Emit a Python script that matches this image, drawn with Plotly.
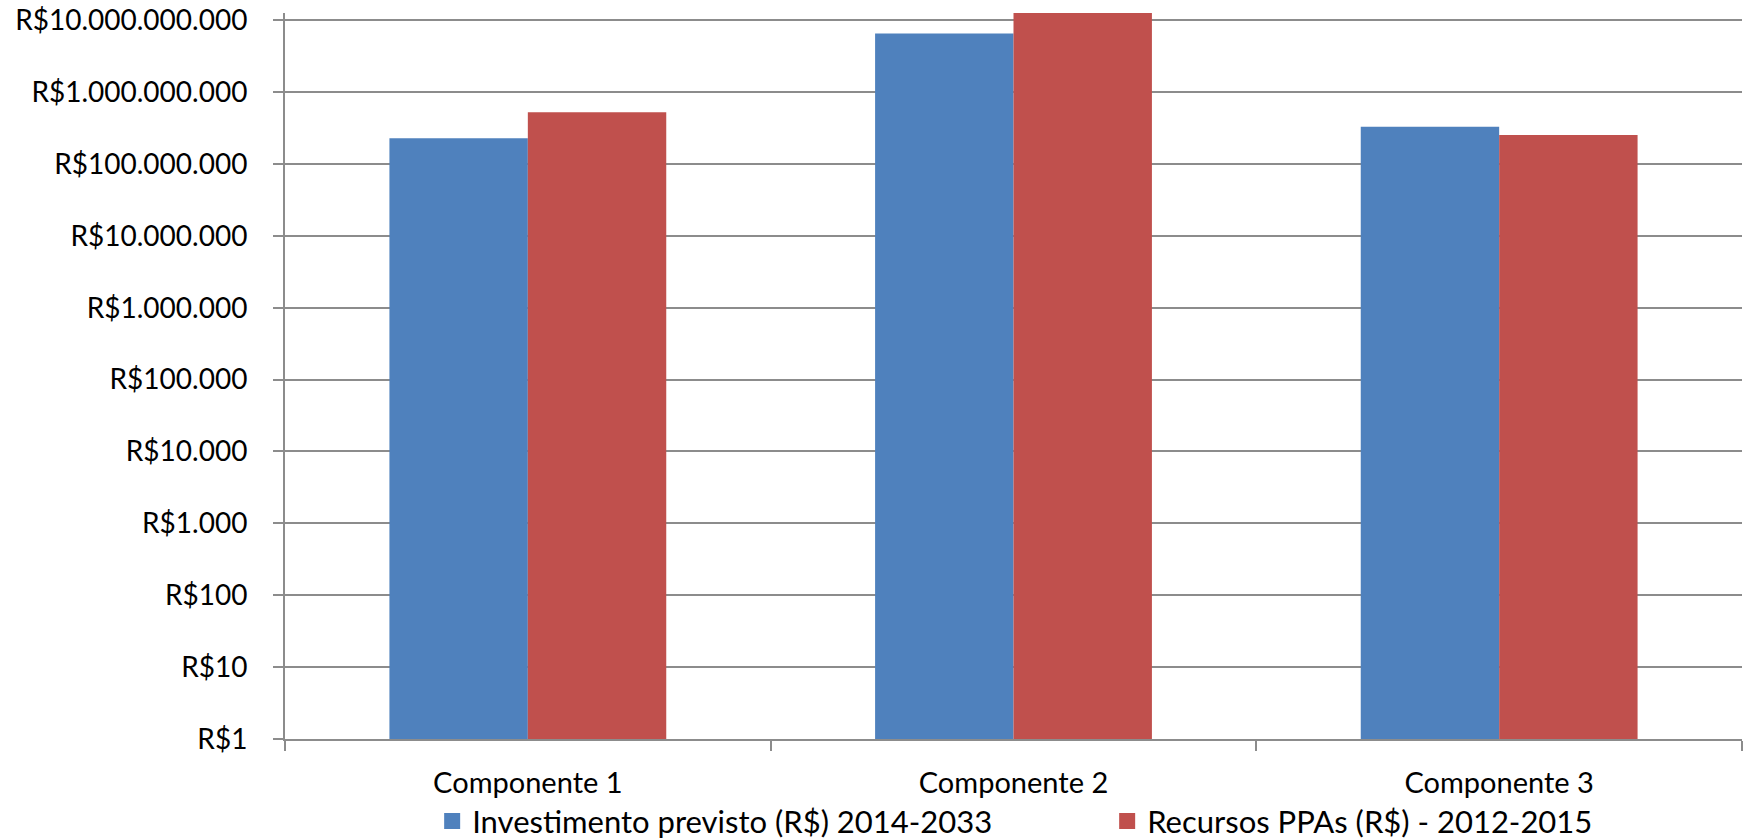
import plotly.graph_objects as go

# Data (log scale, R$)
categories = ["Componente 1", "Componente 2", "Componente 3"]
investimento = [2.28e8, 6.55e9, 3.30e8]
recursos_ppa = [5.24e8, 1.30e10, 2.53e8]

series_names = ["Investimento previsto (R$) 2014-2033", "Recursos PPAs (R$) - 2012-2015"]
series_colors = ["#4F81BD", "#C0504D"]

tick_vals = [10 ** k for k in range(11)]
tick_text = ["R$1", "R$10", "R$100", "R$1.000", "R$10.000", "R$100.000",
             "R$1.000.000", "R$10.000.000", "R$100.000.000",
             "R$1.000.000.000", "R$10.000.000.000"]

FONT = "Lato"
AXIS_GRAY = "#8C8C8C"

fig = go.Figure()

for name, vals, color in zip(series_names, [investimento, recursos_ppa], series_colors):
    fig.add_trace(go.Bar(
        x=categories,
        y=vals,
        name=name,
        marker_color=color,
        marker_line_width=0,
        showlegend=False,
    ))
    # legend-only entry with a bigger square swatch
    fig.add_trace(go.Scatter(
        x=[None], y=[None],
        mode="markers",
        name=name,
        marker=dict(symbol="square", size=18, color=color),
    ))

fig.update_layout(
    width=1746,
    height=839,
    margin=dict(l=285, r=4, t=13, b=100, autoexpand=False),
    paper_bgcolor="white",
    plot_bgcolor="white",
    barmode="group",
    bargap=0.43,
    bargroupgap=0,
    font=dict(family=FONT, color="black"),
    legend=dict(
        orientation="h",
        x=0.101, xanchor="left",
        y=-0.1135, yanchor="middle",
        font=dict(size=31, family=FONT),
        bgcolor="rgba(0,0,0,0)",
        itemsizing="trace",
        entrywidth=630,
        traceorder="normal",
    ),
)

fig.update_xaxes(
    type="category",
    automargin=False,
    showline=True, linecolor=AXIS_GRAY, linewidth=2,
    ticks="outside", ticklen=10, tickcolor=AXIS_GRAY, tickwidth=2,
    tickson="boundaries",
    showgrid=False,
    tickfont=dict(size=29, family=FONT),
    ticklabelstandoff=17,
)

fig.update_yaxes(
    type="log",
    automargin=False,
    range=[0, 10.1],
    tickvals=tick_vals,
    ticktext=tick_text,
    showline=True, linecolor=AXIS_GRAY, linewidth=2,
    ticks="outside", ticklen=10, tickcolor=AXIS_GRAY, tickwidth=2,
    showgrid=True, gridcolor=AXIS_GRAY, gridwidth=2,
    tickfont=dict(size=28, family=FONT),
    ticklabelstandoff=20,
    ticklabeloverflow="allow",
    zeroline=False,
)

# drop the default 8px body margin so the figure fills the window exactly
fig.write_html(
    "out.html",
    config={"displayModeBar": False},
    post_script="document.body.style.margin = '0';",
)
